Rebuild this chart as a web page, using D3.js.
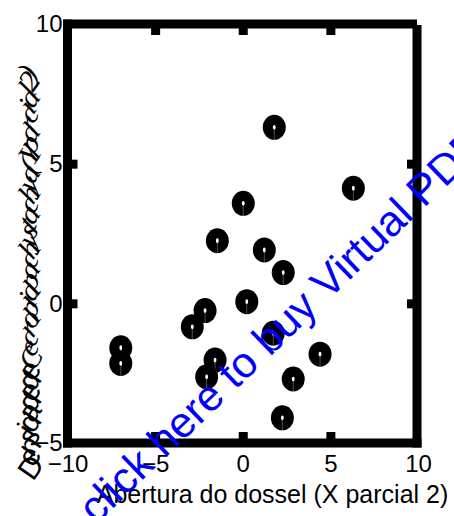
<!DOCTYPE html>
<html>
<head>
<meta charset="utf-8">
<script src="https://cdn.jsdelivr.net/npm/d3@7"></script>
<style>
  body { margin: 0; background: #fff; }
  svg { display: block; }
</style>
</head>
<body>
<svg id="chart" width="454" height="516"></svg>
<script>
// Partial-regression scatter: canopy openness vs. seedling density
const xValues = [1.80, 6.31, 0.03, -1.45, 1.23, 2.31, 0.23, -2.15, -2.88, 1.74, -6.96, -6.96, 4.41, -1.58, -2.06, 2.88, 2.26];
const yValues = [6.30, 4.12, 3.58, 2.24, 1.91, 1.10, 0.06, -0.26, -0.84, -1.07, -1.59, -2.15, -1.82, -2.03, -2.63, -2.71, -4.10];
const xTicks = [-10, -5, 0, 5, 10];
const yTicks = [-5, 0, 5, 10];
const xDomain = [-10, 10];
const yDomain = [-5, 10];
const xTitle = "Abertura do dossel (X parcial 2)";
const yTitlePlain = "Densidade de ";
const yTitleItalic = "Cecropia pachystachya (Y parcial 2)";
const stampText = "click here to buy Virtual PDF Printer";

const points = xValues.map((x, i) => ({ x, y: yValues[i] }));

const svg = d3.select("#chart");
const pLeft = 67.5, pRight = 418, pTop = 24, pBottom = 443;
const FONT = "'Liberation Sans', Arial, Helvetica, sans-serif";
const frameW = 9;

const x = d3.scaleLinear().domain(xDomain).range([pLeft, pRight]);
const y = d3.scaleLinear().domain(yDomain).range([pBottom, pTop]);
const rightEdge = x(xDomain[1]) - 1;

// Heavy box frame
const frame = svg.append("g").attr("stroke", "#000").attr("stroke-width", frameW).attr("fill", "none");
frame.append("line").attr("x1", pLeft).attr("x2", pLeft).attr("y1", pTop - frameW / 2).attr("y2", pBottom + frameW / 2);
frame.append("line").attr("x1", pLeft - frameW / 2).attr("x2", rightEdge).attr("y1", pTop).attr("y2", pTop);
frame.append("line").attr("x1", pLeft - frameW / 2).attr("x2", rightEdge + frameW / 2).attr("y1", pBottom).attr("y2", pBottom);
frame.append("line").attr("x1", rightEdge).attr("x2", rightEdge).attr("y1", pTop + 1).attr("y2", pBottom + frameW / 2);

function styleAxis(g) {
  g.select(".domain").remove();
  g.selectAll(".tick line").attr("stroke", "#000").attr("stroke-width", frameW);
  g.selectAll(".tick text").attr("fill", "#000").style("font-family", FONT).style("font-size", "24px");
}

const innerX = v => v > xDomain[0] && v < xDomain[1];
const innerY = v => v > yDomain[0] && v < yDomain[1];

// Bottom axis: labels plus inward ticks
svg.append("g").attr("transform", `translate(0,${pBottom})`)
  .call(d3.axisBottom(x).tickValues(xTicks).tickSize(0).tickPadding(12).tickFormat(d3.format("d")))
  .call(styleAxis);
svg.append("g").attr("transform", `translate(0,${pBottom})`)
  .call(d3.axisBottom(x).tickValues(xTicks.filter(innerX)).tickSize(-11).tickFormat(""))
  .call(styleAxis);
// Top axis ticks
svg.append("g").attr("transform", `translate(0,${pTop})`)
  .call(d3.axisTop(x).tickValues(xTicks.filter(innerX)).tickSize(-11).tickFormat(""))
  .call(styleAxis);
// Left axis
svg.append("g").attr("transform", `translate(${pLeft},0)`)
  .call(d3.axisLeft(y).tickValues(yTicks).tickSize(0).tickPadding(5).tickFormat(d3.format("d")))
  .call(styleAxis);
svg.append("g").attr("transform", `translate(${pLeft},0)`)
  .call(d3.axisLeft(y).tickValues(yTicks.filter(innerY)).tickSize(-10).tickFormat(""))
  .call(styleAxis);
// Right axis ticks
svg.append("g").attr("transform", `translate(${rightEdge},0)`)
  .call(d3.axisRight(y).tickValues(yTicks.filter(innerY)).tickSize(-10).tickFormat(""))
  .call(styleAxis);

// Ring markers
const marks = svg.append("g").selectAll("g").data(points).join("g")
  .attr("transform", d => `translate(${x(d.x)},${y(d.y)})`);
marks.append("ellipse").attr("rx", 11.5).attr("ry", 12.5).attr("fill", "#000");
marks.append("ellipse").attr("rx", 1.4).attr("ry", 2.4).attr("fill", "#fff");
marks.append("line").attr("x1", 0).attr("x2", 0).attr("y1", 2).attr("y2", 12.5)
  .attr("stroke", "#fff").attr("stroke-width", 0.7).attr("opacity", 0.45);

// X title
svg.append("text")
  .attr("x", 272.5).attr("y", 503)
  .attr("text-anchor", "middle")
  .style("font-family", FONT).style("font-size", "25px")
  .text(xTitle);

// Y title: glyphs individually turned and stacked upward
const yt = svg.append("g");
let cy = 482;
const cx = 33;
function stackGlyphs(str, italic, step) {
  for (const ch of str) {
    const t = yt.append("text")
      .attr("x", cx).attr("y", cy)
      .attr("transform", `rotate(-55,${cx},${cy})`)
      .style("font-family", italic ? "'Liberation Serif', serif" : FONT)
      .style("font-style", italic ? "italic" : "normal")
      .style("font-size", "30px")
      .text(ch);
    cy -= t.node().getComputedTextLength() * step;
  }
}
stackGlyphs(yTitlePlain, false, 0.62);
stackGlyphs(yTitleItalic, true, 0.72);

// Overprinted stamp
svg.append("text")
  .attr("x", 96).attr("y", 525)
  .attr("transform", "rotate(-44,96,525)")
  .attr("fill", "#0000ff")
  .style("font-family", FONT).style("font-size", "43px")
  .text(stampText);
</script>
</body>
</html>
